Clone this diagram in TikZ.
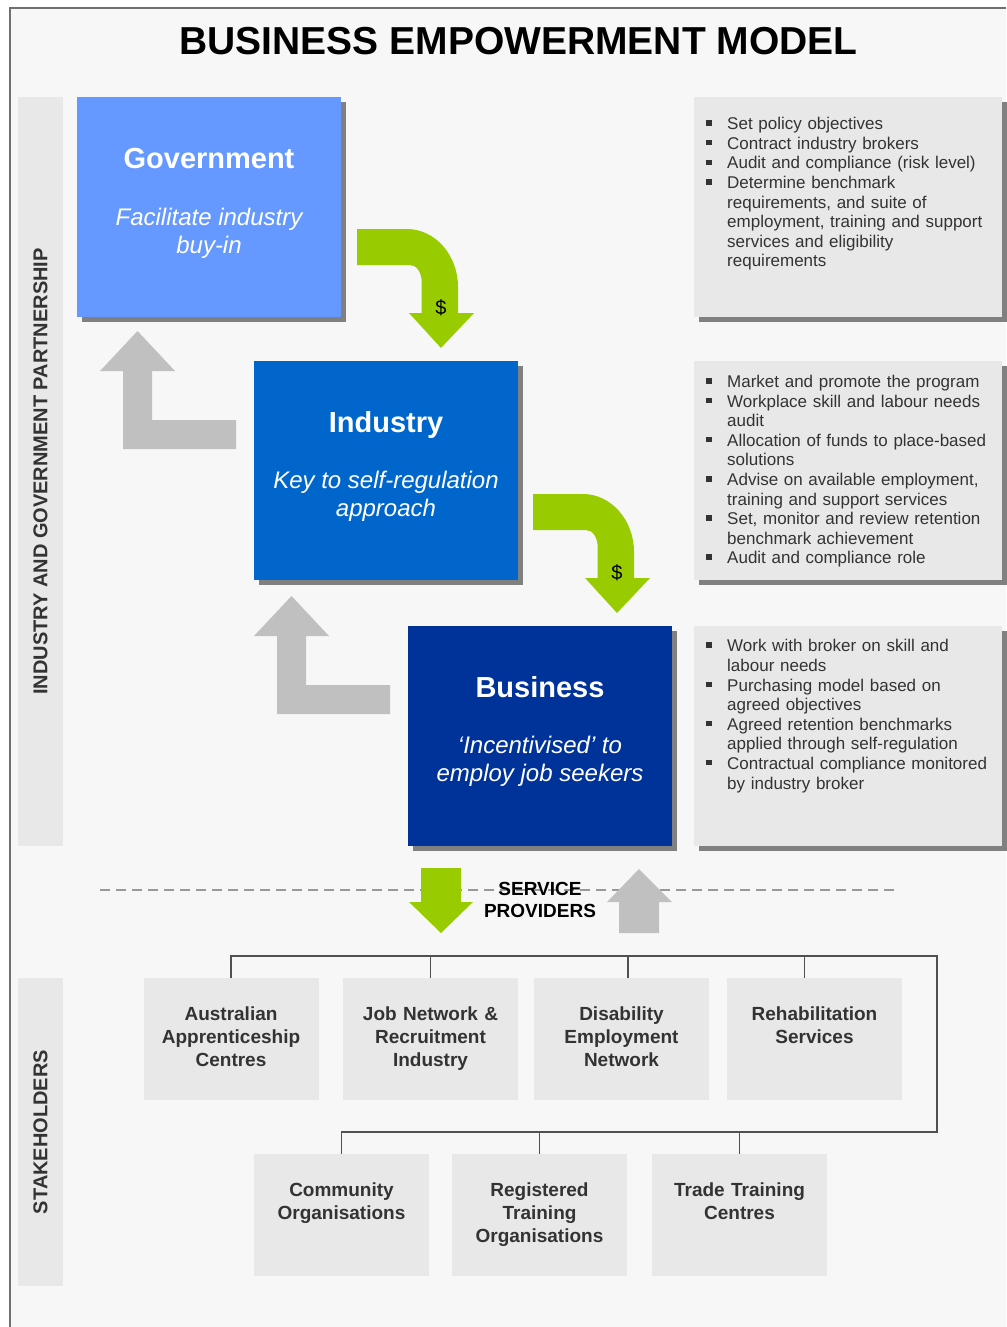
\documentclass[tikz,border=0pt]{standalone}
\usepackage{fontspec}
\setmainfont{Liberation Sans}
\usetikzlibrary{shadows}

\definecolor{govblue}{HTML}{6699FF}
\definecolor{indblue}{HTML}{0066CC}
\definecolor{busblue}{HTML}{003399}
\definecolor{arrowgreen}{HTML}{99CC00}
\definecolor{arrowgray}{HTML}{C0C0C0}
\definecolor{panelgray}{HTML}{F7F7F7}
\definecolor{boxgray}{HTML}{E8E8E8}
\definecolor{shadowgray}{HTML}{808080}
\definecolor{framegray}{HTML}{707070}
\definecolor{linegray}{HTML}{505050}
\definecolor{dashgray}{HTML}{999999}
\definecolor{inkgray}{HTML}{333333}

% one bulleted entry with a hanging indent
\newcommand{\bitem}[1]{\par\noindent\hangindent=21pt\hangafter=1\rule{0pt}{13pt}\makebox[21pt][l]{\raisebox{4pt}{\rule{5.5pt}{5.5pt}}}#1}

\begin{document}
\begin{tikzpicture}[
  x={(1pt,0pt)}, y={(0pt,-1pt)},
  band/.style={fill=boxgray, minimum width=45pt, inner sep=0pt},
  bandtext/.style={rotate=90, text=inkgray, inner sep=0pt,
    font=\fontsize{20}{20}\selectfont\bfseries},
  bigbox/.style={minimum width=264pt, inner sep=0pt,
    drop shadow={shadow xshift=5pt, shadow yshift=-5pt, fill=shadowgray, opacity=1}},
  boxtitle/.style={anchor=base, text=white, inner sep=0pt,
    font=\fontsize{29}{29}\selectfont\bfseries},
  boxsub/.style={anchor=base, text=white, inner sep=0pt,
    font=\fontsize{24}{24}\selectfont\itshape},
  infobox/.style={fill=boxgray, minimum width=308pt, inner sep=0pt,
    drop shadow={shadow xshift=5pt, shadow yshift=-5pt, fill=shadowgray, opacity=1}},
  infotext/.style={anchor=north west, inner sep=0pt, text width=300pt,
    align=left, text=inkgray,
    font=\fontsize{17}{19.6}\selectfont,
    execute at begin node={\setlength{\parskip}{0pt}}},
  holder/.style={fill=boxgray, minimum width=175pt, minimum height=122pt, inner sep=0pt},
  holdertext/.style={anchor=north, inner sep=0pt, text width=175pt, align=center,
    text=inkgray, font=\fontsize{19}{23}\selectfont\bfseries},
  conn/.style={draw=linegray, line width=1.4pt},
  dollar/.style={text=black, inner sep=0pt, font=\fontsize{20}{20}\selectfont},
  pics/greenturn/.style={code={
    \fill[arrowgreen] (0,0) -- (50,0) .. controls (78,0) and (101,26) .. (101,58)
      -- (101,84) -- (117,84) -- (84,119) -- (52,84) -- (64.7,84) -- (64.7,53)
      .. controls (64.7,43.5) and (59.5,36) .. (53,36) -- (0,36) -- cycle;
    \node[dollar] (-cash) at (84,79) {\$};
  }},
  pics/grayturn/.style={code={
    \fill[arrowgray] (37.5,0) -- (75,40) -- (52,40) -- (52,89) -- (136,89)
      -- (136,118) -- (23,118) -- (23,40) -- (0,40) -- cycle;
  }}
]
\useasboundingbox (0,0) rectangle (1006,1327);
\fill[white] (0,0) rectangle (1006,1327);

% page panel and its frame
\fill[panelgray] (10,8) rectangle (1006,1327);
\draw[framegray, line width=1.6pt] (10,1327) -- (10,8) -- (1006,8);

% heading
\node[anchor=base, inner sep=0pt, font=\fontsize{39}{39}\selectfont\bfseries] (title)
  at (518.5,55) {BUSINESS EMPOWERMENT MODEL};

% side bands
\node[band, minimum height=749pt] (bandA) at (40.5,471.5) {};
\node[bandtext] (bandAt) at (bandA.center) {INDUSTRY AND GOVERNMENT PARTNERSHIP};
\node[band, minimum height=308pt] (bandB) at (40.5,1132) {};
\node[bandtext] (bandBt) at (bandB.center) {STAKEHOLDERS};

% turning arrows between the tiers
\pic (up1) at (100,331) {grayturn};
\pic (up2) at (254,596) {grayturn};
\pic (fund1) at (357,229) {greenturn};
\pic (fund2) at (533,494) {greenturn};

% the three tiers
\node[bigbox, fill=govblue, minimum height=220pt] (gov) at (209,207) {};
\node[boxtitle] (govT) at (209,168) {Government};
\node[boxsub] (govS1) at (209,225) {Facilitate industry};
\node[boxsub] (govS2) at (209,253) {buy-in};

\node[bigbox, fill=indblue, minimum height=219pt] (ind) at (386,470.5) {};
\node[boxtitle] (indT) at (386,432) {Industry};
\node[boxsub] (indS1) at (386,488.5) {Key to self-regulation};
\node[boxsub] (indS2) at (386,516.5) {approach};

\node[bigbox, fill=busblue, minimum height=220pt] (bus) at (540,736) {};
\node[boxtitle] (busT) at (540,697) {Business};
\node[boxsub] (busS1) at (540,753.5) {‘Incentivised’ to};
\node[boxsub] (busS2) at (540,781.5) {employ job seekers};

% role descriptions
\node[infobox, minimum height=220pt] (info1) at (848,207) {};
\node[infotext] (info1t) at (706,110) {%
  \bitem{Set policy objectives}
  \bitem{Contract industry brokers}
  \bitem{Audit and compliance (risk level)}
  \bitem{Determine benchmark\newline requirements, and suite of\newline employment, training and support\newline services and eligibility\newline requirements}\par};

\node[infobox, minimum height=219pt] (info2) at (848,470.5) {};
\node[infotext] (info2t) at (706,367.7) {%
  \bitem{Market and promote the program}
  \bitem{Workplace skill and labour needs\newline audit}
  \bitem{Allocation of funds to place-based\newline solutions}
  \bitem{Advise on available employment,\newline training and support services}
  \bitem{Set, monitor and review retention\newline benchmark achievement}
  \bitem{Audit and compliance role}\par};

\node[infobox, minimum height=220pt] (info3) at (848,736) {};
\node[infotext] (info3t) at (706,632) {%
  \bitem{Work with broker on skill and\newline labour needs}
  \bitem{Purchasing model based on\newline agreed objectives}
  \bitem{Agreed retention benchmarks\newline applied through self-regulation}
  \bitem{Contractual compliance monitored\newline by industry broker}\par};

% service provider divide
\coordinate (dashL) at (100,890);
\coordinate (dashR) at (896,890);
\draw[dashgray, line width=2pt, dash pattern=on 10pt off 6pt] (dashL) -- (dashR);
\fill[arrowgreen] (421,868) -- (461,868) -- (461,902) -- (473,902) -- (441,933)
  -- (409,902) -- (421,902) -- cycle;
\fill[arrowgray] (639,869) -- (672,902) -- (659,902) -- (659,933) -- (619,933)
  -- (619,902) -- (607,902) -- cycle;
\node[anchor=north, inner sep=0pt, align=center,
  font=\fontsize{19}{22.7}\selectfont\bfseries] (service) at (540,881)
  {\rule{0pt}{14pt}SERVICE\\PROVIDERS};

% stakeholders
\node[holder] (s1) at (231,1039) {};
\node[holder] (s2) at (430.5,1039) {};
\node[holder] (s3) at (621.5,1039) {};
\node[holder] (s4) at (814.5,1039) {};
\node[holder] (s5) at (341.5,1215) {};
\node[holder] (s6) at (539.5,1215) {};
\node[holder] (s7) at (739.5,1215) {};

\node[holdertext] (s1t) at ([yshift=-28pt]s1.north) {\rule{0pt}{14pt}Australian\\Apprenticeship\\Centres};
\node[holdertext] (s2t) at ([yshift=-28pt]s2.north) {\rule{0pt}{14pt}Job Network \&\\Recruitment\\Industry};
\node[holdertext] (s3t) at ([yshift=-28pt]s3.north) {\rule{0pt}{14pt}Disability\\Employment\\Network};
\node[holdertext] (s4t) at ([yshift=-28pt]s4.north) {\rule{0pt}{14pt}Rehabilitation\\Services};
\node[holdertext] (s5t) at ([yshift=-28pt]s5.north) {\rule{0pt}{14pt}Community\\Organisations};
\node[holdertext] (s6t) at ([yshift=-28pt]s6.north) {\rule{0pt}{14pt}Registered\\Training\\Organisations};
\node[holdertext] (s7t) at ([yshift=-28pt]s7.north) {\rule{0pt}{14pt}Trade Training\\Centres};

% bus lines joining the stakeholders
\coordinate (busTop) at (937,956);
\coordinate (busLow) at (937,1132);
\draw[conn] (s1.north) |- (busTop) -- (busLow) -| (s5.north);
\draw[conn] (s2.north) -- (s2.north |- busTop);
\draw[conn] ([xshift=6.5pt]s3.north) -- ([xshift=6.5pt]s3.north |- busTop);
\draw[conn] ([xshift=-10pt]s4.north) -- ([xshift=-10pt]s4.north |- busTop);
\draw[conn] (s6.north) -- (s6.north |- busLow);
\draw[conn] (s7.north) -- (s7.north |- busLow);
\end{tikzpicture}
\end{document}
